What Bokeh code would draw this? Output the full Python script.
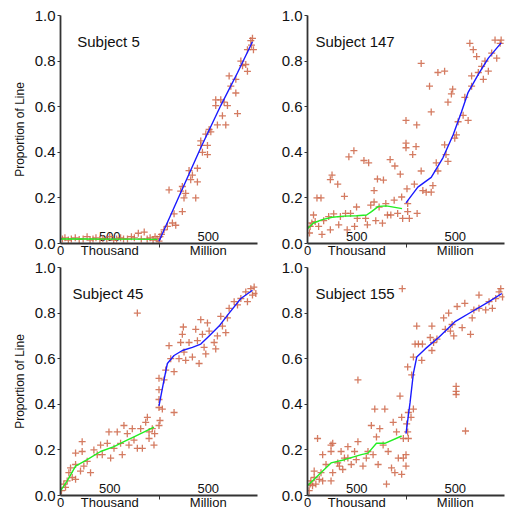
from bokeh.plotting import figure
from bokeh.layouts import column, row
from bokeh.models import Range1d, FixedTicker, Label
from bokeh.embed import file_html
from bokeh.resources import INLINE
from bokeh.core.properties import value

# ---------------- data ----------------
subjects = ["Subject 5", "Subject 147", "Subject 45", "Subject 155"]
y_ticks = [0.0, 0.2, 0.4, 0.6, 0.8, 1.0]
y_tick_labels = ["0.0", "0.2", "0.4", "0.6", "0.8", "1.0"]
segment_names = ["Thousand", "Million"]
segment_max = 1000
segment_tick_value = 500
segment_tick_label = "500"

# Subject 5
s5_k_x = [20, 45, 80, 110, 150, 190, 230, 270, 300, 330, 360, 400, 430, 470, 500,
          540, 570, 610, 640, 680, 720, 750, 790, 820, 850, 880, 910, 940, 960, 980]
s5_k_y = [0.02, 0.025, 0.015, 0.02, 0.025, 0.018, 0.02, 0.03, 0.015, 0.02, 0.025, 0.018, 0.022, 0.02, 0.03,
          0.015, 0.02, 0.025, 0.02, 0.02, 0.03, 0.025, 0.045, 0.02, 0.05, 0.02, 0.025, 0.015, 0.03, 0.02]
s5_m_x = [0, 10, 25, 51, 102, 85, 136, 153, 170, 220, 237, 237, 254, 271, 305, 322, 339, 373, 390, 390,
          424, 424, 441, 475, 492, 492, 509, 526, 576, 576, 593, 627, 644, 661, 678, 695, 712, 729,
          780, 780, 797, 831, 848, 881, 898, 898, 932, 939, 949, 959]
s5_m_y = [0.01, 0.03, 0.04, 0.06, 0.235, 0.075, 0.09, 0.13, 0.08, 0.23, 0.25, 0.14, 0.2, 0.22, 0.32, 0.28, 0.30, 0.2, 0.27, 0.33,
          0.45, 0.43, 0.40, 0.48, 0.43, 0.39, 0.50, 0.49, 0.63, 0.605, 0.52, 0.63, 0.56, 0.62, 0.52, 0.605, 0.735, 0.69,
          0.72, 0.66, 0.57, 0.8, 0.78, 0.785, 0.755, 0.85, 0.89, 0.87, 0.9, 0.85]
s5_kfit_x = [0, 250, 500, 750, 983]
s5_kfit_y = [0.02, 0.02, 0.019, 0.019, 0.018]
s5_mfit_x = [0, 186, 424, 627, 797, 949]
s5_mfit_y = [0.01, 0.19, 0.42, 0.605, 0.749, 0.885]

# Subject 147
s147_k_x = [20, 27, 44, 61, 78, 96, 137, 113, 147, 164, 215, 232, 249, 232, 266, 307, 317, 334, 375, 386,
            403, 420, 437, 471, 478, 498, 505, 573, 590, 621, 676, 676, 693, 710, 727, 771, 795, 812, 839,
            846, 880, 887, 915, 942, 956, 966, 608, 642, 761]
s147_k_y = [0.046, 0.075, 0.09, 0.125, 0.096, 0.2, 0.2, 0.075, 0.04, 0.1, 0.118, 0.28, 0.30, 0.06, 0.13, 0.26, 0.082, 0.118, 0.207, 0.132,
            0.06, 0.38, 0.132, 0.407, 0.075, 0.16, 0.11, 0.364, 0.11, 0.354, 0.232, 0.182, 0.1, 0.283, 0.16, 0.278, 0.175, 0.125, 0.368,
            0.125, 0.19, 0.34, 0.132, 0.304, 0.204, 0.11, 0.082, 0.168, 0.089]
s147_m_x = [0, 0, 0, 10, 17, 17, 34, 68, 85, 102, 109, 113, 154, 154, 171, 205, 239, 256, 273, 256, 324, 392,
            307, 324, 392, 406, 426, 461, 474, 426, 495, 512, 529, 580, 597, 631, 648, 666, 683, 717, 666,
            734, 768, 785, 802, 836, 870, 904, 921, 956, 966]
s147_m_y = [0.54, 0.44, 0.42, 0.24, 0.175, 0.14, 0.11, 0.39, 0.26, 0.425, 0.52, 0.132, 0.79, 0.318, 0.232, 0.225, 0.69, 0.577, 0.254, 0.225, 0.75, 0.756,
            0.354, 0.318, 0.433, 0.39, 0.62, 0.656, 0.677, 0.36, 0.462, 0.476, 0.534, 0.562, 0.641, 0.54, 0.878, 0.735, 0.85, 0.82, 0.69,
            0.75, 0.777, 0.72, 0.8, 0.756, 0.835, 0.892, 0.813, 0.878, 0.892]
s147_kfit_x = [0, 60, 150, 250, 370, 500, 600, 650, 720, 800, 960]
s147_kfit_y = [0.065, 0.09, 0.105, 0.115, 0.12, 0.122, 0.125, 0.14, 0.163, 0.165, 0.153]
s147_mfit_x = [0, 120, 256, 375, 478, 563, 631, 734, 836, 966]
s147_mfit_y = [0.178, 0.247, 0.29, 0.376, 0.476, 0.577, 0.663, 0.742, 0.813, 0.88]

# Subject 45
s45_k_x = [10, 34, 51, 68, 85, 102, 119, 153, 153, 153, 220, 220, 237, 271, 305, 339, 373, 407, 424, 475,
           492, 509, 543, 576, 610, 627, 644, 678, 695, 729, 746, 780, 780, 814, 831, 865, 882, 899, 932,
           949, 956, 899, 203]
s45_k_y = [0.021, 0.05, 0.036, 0.064, 0.1, 0.121, 0.079, 0.136, 0.071, 0.186, 0.236, 0.193, 0.129, 0.15, 0.1, 0.2, 0.179, 0.221, 0.179, 0.229,
           0.279, 0.164, 0.207, 0.279, 0.229, 0.179, 0.307, 0.271, 0.221, 0.293, 0.243, 0.8, 0.207, 0.293, 0.207, 0.321, 0.343, 0.279, 0.293,
           0.221, 0.271, 0.25, 0.107]
s45_m_x = [0, 0, 0, 0, 0, 10, 34, 51, 68, 102, 119, 153, 153, 203, 220, 237, 247, 254, 271, 305, 339, 373,
           390, 407, 424, 441, 458, 475, 492, 509, 560, 576, 593, 627, 644, 678, 695, 712, 763, 797, 831,
           881, 898, 932, 949, 966, 983]
s45_m_y = [0.307, 0.386, 0.421, 0.464, 0.514, 0.329, 0.379, 0.507, 0.55, 0.657, 0.6, 0.364, 0.543, 0.6, 0.671, 0.707, 0.739, 0.629, 0.593, 0.671, 0.607, 0.729,
           0.679, 0.579, 0.771, 0.707, 0.65, 0.621, 0.757, 0.721, 0.671, 0.643, 0.7, 0.786, 0.743, 0.714, 0.779, 0.821, 0.85, 0.836, 0.864,
           0.893, 0.85, 0.907, 0.879, 0.914, 0.886]
s45_kfit_x = [0, 68, 153, 271, 407, 543, 644, 746, 949]
s45_kfit_y = [0.02, 0.064, 0.129, 0.157, 0.193, 0.214, 0.236, 0.257, 0.3]
s45_mfit_x = [0, 51, 85, 153, 237, 339, 424, 509, 610, 712, 831, 949]
s45_mfit_y = [0.393, 0.507, 0.579, 0.614, 0.636, 0.65, 0.664, 0.7, 0.743, 0.8, 0.864, 0.9]

# Subject 155
s155_k_x = [17, 27, 34, 51, 68, 68, 85, 102, 119, 137, 154, 154, 188, 239, 239, 256, 239, 256, 307, 324,
            341, 358, 375, 410, 410, 444, 478, 495, 512, 512, 563, 597, 614, 648, 666, 683, 700, 734, 717,
            768, 785, 802, 819, 853, 870, 904, 922, 939, 956, 973, 887, 956, 973, 962]
s155_k_y = [0.021, 0.05, 0.064, 0.043, 0.107, 0.079, 0.05, 0.25, 0.071, 0.1, 0.179, 0.064, 0.136, 0.193, 0.221, 0.229, 0.064, 0.1, 0.143, 0.129,
            0.193, 0.114, 0.164, 0.214, 0.164, 0.136, 0.193, 0.157, 0.507, 0.236, 0.129, 0.164, 0.193, 0.307, 0.179, 0.379, 0.257, 0.293, 0.136,
            0.221, 0.379, 0.05, 0.193, 0.121, 0.321, 0.279, 0.164, 0.436, 0.093, 0.164, 0.1, 0.343, 0.25, 0.907]
s155_m_x = [0, 0, 7, 17, 17, 24, 24, 51, 75, 58, 75, 92, 109, 126, 160, 167, 246, 263, 263, 280, 314, 382,
            399, 433, 451, 468, 485, 509, 509, 509, 519, 570, 597, 604, 655, 672, 689, 741, 741, 809, 843,
            877, 911, 945, 962, 980]
s155_m_y = [0.129, 0.179, 0.314, 0.564, 0.279, 0.25, 0.364, 0.343, 0.379, 0.529, 0.607, 0.664, 0.743, 0.664, 0.593, 0.664, 0.693, 0.743, 0.636, 0.671, 0.686, 0.779,
            0.729, 0.8, 0.721, 0.75, 0.7, 0.479, 0.457, 0.443, 0.829, 0.736, 0.843, 0.283, 0.707, 0.779, 0.814, 0.879, 0.821, 0.814, 0.85,
            0.821, 0.864, 0.893, 0.907, 0.871]
s155_kfit_x = [0, 102, 239, 375, 546, 614, 700, 785, 956]
s155_kfit_y = [0.043, 0.086, 0.143, 0.157, 0.179, 0.186, 0.229, 0.229, 0.261]
s155_mfit_x = [0, 41, 75, 109, 195, 331, 502, 672, 843, 973]
s155_mfit_y = [0.271, 0.407, 0.536, 0.607, 0.643, 0.693, 0.764, 0.807, 0.85, 0.886]

title_x = [170, 81, 122, 81]

# ---------------- styling ----------------
FONT = "Liberation Sans"
AX = "#333333"
PT = "#cd6445"
TXT = "#111111"


def panel(idx, kx, ky, mx, my, kfx, kfy, mfx, mfy, left, top):
    p = figure(width=258 if left else 247, height=260 if top else 252,
               x_range=Range1d(0, 2 * segment_max), y_range=Range1d(0, 1),
               output_backend="svg", toolbar_location=None,
               min_border_left=60 if left else 49, min_border_right=1,
               min_border_top=15 if top else 7, min_border_bottom=17)
    p.outline_line_color = None
    p.grid.visible = False
    p.background_fill_color = "white"

    # y axis
    ya = p.yaxis[0]
    ya.ticker = FixedTicker(ticks=y_ticks)
    ya.major_label_overrides = {t: l for t, l in zip(y_ticks, y_tick_labels)}
    ya.major_tick_out = 3
    ya.major_tick_in = 0
    ya.minor_tick_line_color = None
    ya.axis_line_color = AX
    ya.axis_line_width = 1.8
    ya.major_tick_line_color = AX
    ya.major_label_text_font = FONT
    ya.major_label_text_font_size = "15px"
    ya.major_label_text_color = TXT
    ya.major_label_standoff = 2
    if left:
        ya.axis_label = "Proportion of Line"
        ya.axis_label_text_font = FONT
        ya.axis_label_text_font_size = "12px"
        ya.axis_label_text_font_style = "normal"
        ya.axis_label_text_color = TXT
        ya.axis_label_standoff = 5

    # x axis
    xa = p.xaxis[0]
    xa.ticker = FixedTicker(ticks=[0, segment_tick_value, segment_max + segment_tick_value],
                            minor_ticks=[segment_max])
    xa.major_label_overrides = {0: "0", segment_tick_value: segment_names[0],
                                segment_max + segment_tick_value: segment_names[1]}
    xa.major_tick_out = 0
    xa.major_tick_in = 0
    xa.minor_tick_out = 4
    xa.minor_tick_in = 0
    xa.minor_tick_line_color = AX
    xa.major_tick_line_color = None
    xa.axis_line_color = AX
    xa.axis_line_width = 1.8
    xa.major_label_text_font = FONT
    xa.major_label_text_font_size = "13px"
    xa.major_label_text_color = TXT
    xa.major_label_standoff = -5

    # in-plot segment tick labels
    p.text(x=[segment_tick_value, segment_max + segment_tick_value], y=[0, 0],
           text=[segment_tick_label, segment_tick_label], text_align="center",
           text_baseline="bottom", y_offset=-3, text_font=value(FONT),
           text_font_size="13px", text_color=TXT)

    # points
    allx = list(kx) + [segment_max + v for v in mx]
    ally = list(ky) + list(my)
    p.scatter(allx, ally, marker="cross", size=7, line_color=PT, line_alpha=0.85, line_width=1.3)

    # smooths
    p.line(kfx, kfy, line_color="#22ee22", line_width=1.4)
    p.line([segment_max + v for v in mfx], mfy, line_color="#1a1aff", line_width=1.4)

    p.add_layout(Label(x=title_x[idx], y=0.885, text=subjects[idx], text_font=FONT,
                       text_font_size="15px", text_color=TXT, text_baseline="alphabetic"))
    return p


p1 = panel(0, s5_k_x, s5_k_y, s5_m_x, s5_m_y, s5_kfit_x, s5_kfit_y, s5_mfit_x, s5_mfit_y, True, True)
p2 = panel(1, s147_k_x, s147_k_y, s147_m_x, s147_m_y, s147_kfit_x, s147_kfit_y, s147_mfit_x, s147_mfit_y, False, True)
p3 = panel(2, s45_k_x, s45_k_y, s45_m_x, s45_m_y, s45_kfit_x, s45_kfit_y, s45_mfit_x, s45_mfit_y, True, False)
p4 = panel(3, s155_k_x, s155_k_y, s155_m_x, s155_m_y, s155_kfit_x, s155_kfit_y, s155_mfit_x, s155_mfit_y, False, False)

layout = column(row(p1, p2), row(p3, p4))
open("out.html", "w").write(file_html(layout, INLINE))
